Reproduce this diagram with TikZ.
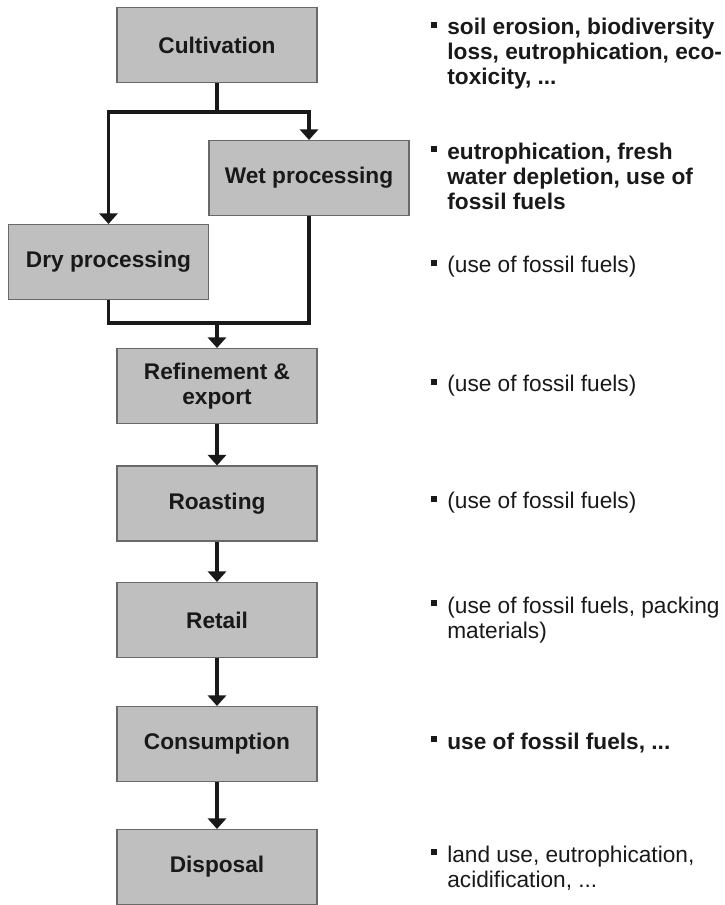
\documentclass[tikz,border=0pt]{standalone}
\usepackage{fontspec}
\setmainfont{Liberation Sans}
\usetikzlibrary{arrows.meta}
\definecolor{boxgray}{RGB}{190,191,190}
\definecolor{edgegray}{RGB}{105,105,105}
\definecolor{inkblack}{RGB}{25,25,25}
\newcommand{\bul}{\llap{\raisebox{0.14cm}{\rule{0.13cm}{0.12cm}}\hspace{0.2cm}}}
\begin{document}
\begin{tikzpicture}[
    stage/.style={rectangle, draw=edgegray, line width=0.6pt, fill=boxgray,
      minimum width=4cm, minimum height=1.5cm, align=center, inner sep=2pt,
      text=inkblack, font=\fontsize{12.9pt}{14.6pt}\selectfont\bfseries},
    note/.style={anchor=west, align=left, inner sep=0pt, text=inkblack,
      font=\fontsize{12.9pt}{14.2pt}\selectfont},
    flow/.style={draw=inkblack, line width=1.8pt,
      -{Triangle[width=0.36cm,length=0.21cm]}},
    link/.style={draw=inkblack, line width=1.8pt}]
      \useasboundingbox (0,0) rectangle (14.5,-18.1);

      % stages of the chain
      \node[stage](cult) at (4.34, -0.90){Cultivation};
      \node[stage](wet)  at (6.18, -3.56){Wet processing};
      \node[stage](dry)  at (2.17, -5.24){Dry processing};
      \node[stage](ref)  at (4.34, -7.72){Refinement \&\\export};
      \node[stage](roast) at (4.34,-10.07){Roasting};
      \node[stage](ret)  at (4.34,-12.40){Retail};
      \node[stage](cons) at (4.34,-14.88){Consumption};
      \node[stage](disp) at (4.34,-17.34){Disposal};

      \coordinate (split) at (4.34,-2.24);
      \coordinate (merge) at (4.34,-6.46);

      % impacts
      \node[note](n1) at (8.94, -1.08){\bfseries\bul soil erosion, biodiversity\\\bfseries loss, eutrophication, eco-\\\bfseries toxicity, ...};
      \node[note](n2) at (8.94, -3.52){\bfseries\bul eutrophication, fresh\\\bfseries water depletion, use of\\\bfseries fossil fuels};
      \node[note](n3) at (8.94, -5.34){\bul (use of fossil fuels)};
      \node[note](n4) at (8.94, -7.72){\bul (use of fossil fuels)};
      \node[note](n5) at (8.94,-10.06){\bul (use of fossil fuels)};
      \node[note](n6) at (8.94,-12.40){\bul (use of fossil fuels, packing\\materials)};
      \node[note](n7) at (8.94,-14.86){\bfseries\bul use of fossil fuels, ...};
      \node[note](n8) at (8.94,-17.36){\bul land use, eutrophication,\\acidification, ...};

      \draw[link] (cult.south) -- (split);
      \draw[flow] (split) -| (dry.north);
      \draw[flow] (split) -| (wet.north);
      \draw[link] (dry.south) |- (merge);
      \draw[link] (wet.south) |- (merge);
      \draw[flow] (merge) -- (ref.north);
      \draw[flow] (ref) -- (roast);
      \draw[flow] (roast) -- (ret);
      \draw[flow] (ret) -- (cons);
      \draw[flow] (cons) -- (disp);
    \end{tikzpicture}
\end{document}
